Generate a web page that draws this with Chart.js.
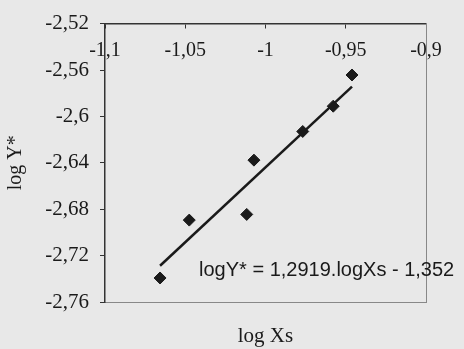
<!DOCTYPE html>
<html><head><meta charset="utf-8">
<script src="https://cdn.jsdelivr.net/npm/chart.js@4"></script>
<style>html,body{margin:0;padding:0;background:#e8e8e8;overflow:hidden}#wrap{width:464px;height:349px;position:relative}</style>
</head><body><div id="wrap"><canvas id="c" width="464" height="349"></canvas></div>
<script>
const logXs = [-1.0657, -1.0475, -1.0117, -1.0072, -0.9768, -0.9578, -0.9461];
const logYstar = [-2.7393, -2.6894, -2.6845, -2.6377, -2.6130, -2.5912, -2.5643];
const xTickValues = [-1.1, -1.05, -1, -0.95, -0.9];
const xTickLabels = ['-1,1', '-1,05', '-1', '-0,95', '-0,9'];
const yTickValues = [-2.76, -2.72, -2.68, -2.64, -2.6, -2.56, -2.52];
const yTickLabels = ['-2,76', '-2,72', '-2,68', '-2,64', '-2,6', '-2,56', '-2,52'];
const trendSlope = 1.2919;
const trendIntercept = -1.352;
const equationLabel = 'logY* = 1,2919.logXs - 1,352';
const xTitle = 'log Xs';
const yTitle = 'log Y*';

const serif = '"Liberation Serif", "Times New Roman", serif';
const sans = '"Liberation Sans", Arial, sans-serif';
const ink = '#1a1a1a';

const points = logXs.map((x, i) => ({x: x, y: logYstar[i]}));
const xMin = Math.min(...logXs), xMax = Math.max(...logXs);
const trend = [xMin, xMax].map(x => ({x: x, y: trendSlope * x + trendIntercept}));

const equationPlugin = {
  id: 'equation',
  afterDatasetsDraw(chart) {
    const {ctx, scales} = chart;
    ctx.save();
    ctx.font = '20px ' + sans;
    ctx.fillStyle = ink;
    ctx.textAlign = 'left';
    ctx.textBaseline = 'middle';
    ctx.fillText(equationLabel, scales.x.getPixelForValue(-1.0414), scales.y.getPixelForValue(-2.7325));
    ctx.restore();
  }
};

new Chart(document.getElementById('c'), {
  type: 'scatter',
  data: {
    datasets: [
      {data: points, pointStyle: 'rectRot', pointRadius: 6, pointHoverRadius: 6,
       backgroundColor: ink, borderColor: ink, borderWidth: 1, showLine: false},
      {data: trend, showLine: true, pointRadius: 0, borderColor: ink, borderWidth: 2.5,
       backgroundColor: ink, fill: false}
    ]
  },
  options: {
    responsive: false,
    animation: false,
    layout: {padding: {top: 20, left: 0, right: 0, bottom: 0}},
    plugins: {legend: {display: false}, tooltip: {enabled: false}},
    scales: {
      x: {
        type: 'linear', position: {y: -2.52}, min: -1.1, max: -0.9,
        afterBuildTicks: s => { s.ticks = xTickValues.map(v => ({value: v})); },
        ticks: {callback: (v, i) => xTickLabels[i], font: {family: serif, size: 20}, color: ink,
                padding: 11, maxRotation: 0, autoSkip: false},
        grid: {display: true, drawOnChartArea: false, drawTicks: true, tickLength: 4, color: '#333'},
        border: {display: true, color: '#333', width: 1.5}
      },
      x2: {
        type: 'linear', position: 'bottom', min: -1.1, max: -0.9,
        ticks: {display: false},
        grid: {display: false},
        border: {display: true, color: '#888', dash: [3, 2]},
        title: {display: true, text: xTitle, font: {family: serif, size: 21}, color: ink,
                padding: {top: 0, bottom: 0}},
        afterFit: s => { s.height = 47; }
      },
      y: {
        type: 'linear', position: 'left', min: -2.76, max: -2.52,
        afterBuildTicks: s => { s.ticks = yTickValues.map(v => ({value: v})); },
        ticks: {callback: (v, i) => yTickLabels[i], font: {family: serif, size: 21}, color: ink,
                padding: 11, autoSkip: false},
        grid: {display: true, drawOnChartArea: false, drawTicks: true, tickLength: 5, color: '#333'},
        border: {display: true, color: '#333', width: 1.5},
        title: {display: true, text: yTitle, font: {family: serif, size: 20}, color: ink,
                padding: {top: 4, bottom: 0}},
        afterFit: s => { s.width = 105; }
      },
      y2: {
        type: 'linear', position: 'right', min: -2.76, max: -2.52,
        ticks: {display: false},
        grid: {display: false},
        border: {display: true, color: '#888', dash: [3, 2]},
        afterFit: s => { s.width = 38; }
      }
    }
  },
  plugins: [equationPlugin]
});
</script>
</body></html>
